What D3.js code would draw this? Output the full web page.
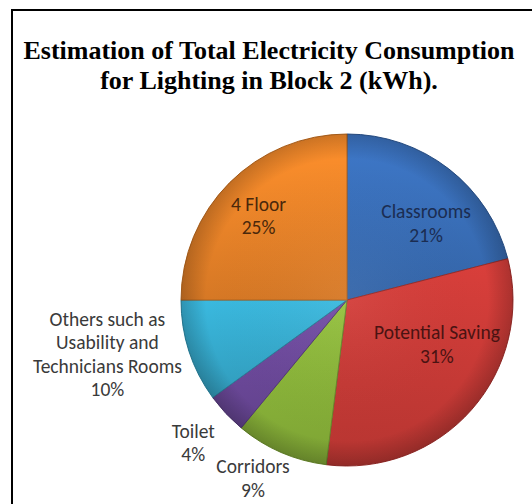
<!DOCTYPE html>
<html>
<head>
<meta charset="utf-8">
<script src="https://cdn.jsdelivr.net/npm/d3@7"></script>
<style>
  html, body { margin: 0; padding: 0; background: #fff; }
  svg { display: block; }
</style>
</head>
<body>
<svg id="chart" width="532" height="504"></svg>
<script>
// Lighting consumption shares for Block 2, clockwise from 12 o'clock
const categories = ["Classrooms", "Potential Saving", "Corridors", "Toilet", "Others such as Usability and Technicians Rooms", "4 Floor"];
const shares = [21, 31, 9, 4, 10, 25];
const labelLines = [
  ["Classrooms"],
  ["Potential Saving"],
  ["Corridors"],
  ["Toilet"],
  ["Others such as", "Usability and", "Technicians Rooms"],
  ["4 Floor"]
];
const titleLines = ["Estimation of Total Electricity Consumption", "for Lighting in Block 2 (kWh)."];

const sliceColors = ["#3a70bb", "#cb3b37", "#8bb53a", "#6d4a9c", "#36acd0", "#ee8629"];
const labelColors = ["#1b2d52", "#4a1312", "#3a3a3a", "#3a3a3a", "#3a3a3a", "#4a280b"];

// label placement: radius as a fraction of the pie radius, and a small angular nudge (degrees)
const labelPlacement = [
  { r: 0.657, nudge: 8.7 },
  { r: 0.608, nudge: -14.4 },
  { r: 1.222, nudge: 4.2 },
  { r: 1.271, nudge: 0 },
  { r: 1.482, nudge: 4.9 },
  { r: 0.729, nudge: -2 }
];

const svg = d3.select("#chart");
const W = 532, H = 504;
svg.append("rect").attr("width", W).attr("height", H).attr("fill", "#fff");

// frame (left and top rules)
svg.append("path")
  .attr("d", `M12,${H} L12,10 L${W},10`)
  .attr("fill", "none")
  .attr("stroke", "#000")
  .attr("stroke-width", 2);

// title
svg.append("g")
  .selectAll("text")
  .data(titleLines)
  .join("text")
  .attr("x", 269)
  .attr("y", (d, i) => 59 + i * 30)
  .attr("text-anchor", "middle")
  .attr("font-family", "'Liberation Serif', 'Times New Roman', serif")
  .attr("font-weight", "bold")
  .attr("font-size", 26)
  .attr("fill", "#000")
  .text(d => d);

const cx = 347, cy = 300, R = 166;
const data = categories.map((c, i) => ({ name: c, value: shares[i], i }));

const pie = d3.pie().sort(null).value(d => d.value).startAngle(0).endAngle(2 * Math.PI);
const arcs = pie(data);
const arc = d3.arc().innerRadius(0).outerRadius(R);

const defs = svg.append("defs");
sliceColors.forEach((c, i) => {
  const lg = defs.append("linearGradient")
    .attr("id", "grad" + i)
    .attr("x1", 0).attr("y1", 0).attr("x2", 0).attr("y2", 1);
  lg.append("stop").attr("offset", "0%").attr("stop-color", d3.color(c).brighter(0.2));
  lg.append("stop").attr("offset", "100%").attr("stop-color", d3.color(c).darker(0.3));
});
// darkening toward the rim, centred on the pie
const rim = defs.append("radialGradient")
  .attr("id", "rim")
  .attr("gradientUnits", "userSpaceOnUse")
  .attr("cx", 0).attr("cy", 0).attr("r", R);
rim.append("stop").attr("offset", "0%").attr("stop-color", "#fff").attr("stop-opacity", 0.05);
rim.append("stop").attr("offset", "85%").attr("stop-color", "#000").attr("stop-opacity", 0);
rim.append("stop").attr("offset", "100%").attr("stop-color", "#000").attr("stop-opacity", 0.2);

const g = svg.append("g").attr("transform", `translate(${cx},${cy})`);

g.selectAll("path.slice")
  .data(arcs)
  .join("path")
  .attr("class", "slice")
  .attr("d", arc)
  .attr("fill", d => `url(#grad${d.data.i})`)
  .attr("stroke", d => d3.color(sliceColors[d.data.i]).darker(0.8))
  .attr("stroke-width", 1)
  .attr("stroke-linejoin", "round");

g.selectAll("path.shade")
  .data(arcs)
  .join("path")
  .attr("class", "shade")
  .attr("d", arc)
  .attr("fill", "url(#rim)");

// labels: category name(s) followed by the percentage
const lineH = 23.5;
const labels = svg.append("g")
  .attr("font-family", "Carlito, Lato, 'Open Sans', sans-serif")
  .attr("font-size", 19.5)
  .attr("text-anchor", "middle");

arcs.forEach(d => {
  const i = d.data.i;
  const p = labelPlacement[i];
  const mid = (d.startAngle + d.endAngle) / 2 + p.nudge * Math.PI / 180;
  const rr = p.r * R;
  const x = cx + rr * Math.sin(mid);
  const y = cy - rr * Math.cos(mid);
  const lines = labelLines[i].concat([d.data.value + "%"]);
  const top = y - (lines.length * lineH) / 2;
  const t = labels.append("text").attr("fill", labelColors[i]);
  lines.forEach((ln, k) => {
    t.append("tspan")
      .attr("x", x)
      .attr("y", top + k * lineH + lineH * 0.72)
      .text(ln);
  });
});
</script>
</body>
</html>
